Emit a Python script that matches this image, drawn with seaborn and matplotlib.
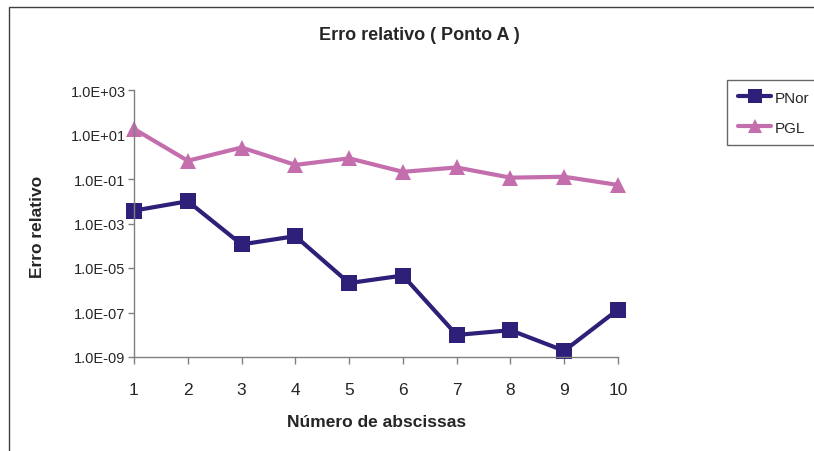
import matplotlib
matplotlib.use("Agg")
import matplotlib.pyplot as plt
import matplotlib.ticker as mticker
from matplotlib.patches import Rectangle
from matplotlib.lines import Line2D
import seaborn as sns
import pandas as pd
import numpy as np

abscissas = [1, 2, 3, 4, 5, 6, 7, 8, 9, 10]
pnor = [3.8e-3, 1.0e-2, 1.15e-4, 2.7e-4, 2.1e-6, 4.6e-6, 9.8e-9, 1.6e-8, 1.9e-9, 1.35e-7]
pgl = [17.8, 0.66, 2.6, 0.43, 0.85, 0.21, 0.33, 0.115, 0.126, 0.054]
series_names = ["PNor", "PGL"]
y_ticks = [1e-9, 1e-7, 1e-5, 1e-3, 1e-1, 1e1, 1e3]

sns.set_theme(style="white")
plt.rcParams['font.family'] = ['Liberation Sans', 'DejaVu Sans']

df = pd.DataFrame({
    "n": abscissas * 2,
    "err": pnor + pgl,
    "series": [series_names[0]] * len(abscissas) + [series_names[1]] * len(abscissas),
})

colors = {"PNor": "#2e1f78", "PGL": "#c46eae"}

fig = plt.figure(figsize=(8.14, 4.52), dpi=100)
ax = fig.add_axes([134 / 814, 1 - 358 / 452, (618 - 134) / 814, (358 - 91) / 452])

sns.lineplot(data=df, x="n", y="err", hue="series", style="series",
             markers={"PNor": "s", "PGL": "^"}, dashes=False, palette=colors,
             linewidth=3, markersize=11, markeredgewidth=0, ax=ax, legend=False,
             clip_on=False)

ax.set_yscale("log")
ax.set_ylim(1e-9, 1e3)
ax.set_xlim(1, 10)
ax.set_yticks(y_ticks)
ax.yaxis.set_minor_locator(mticker.NullLocator())
ax.yaxis.set_major_formatter(mticker.FuncFormatter(
    lambda v, p: "1.0E{:+03d}".format(int(round(np.log10(v))))))
ax.set_xticks(abscissas)
ax.set_xticklabels([str(a) for a in abscissas])

for s in ["top", "right"]:
    ax.spines[s].set_visible(False)
for s in ["left", "bottom"]:
    ax.spines[s].set_color("#808080")
    ax.spines[s].set_linewidth(1.0)
ax.tick_params(axis="y", which="major", direction="out", length=4, width=1,
               color="#808080", labelsize=10.5, pad=2, left=True)
ax.tick_params(axis="x", which="major", direction="out", length=5, width=1,
               color="#808080", labelsize=12.5, pad=13, bottom=True)
ax.grid(False)
ax.set_xlabel("")
ax.set_ylabel("")

fig.text(37 / 814, 1 - 227 / 452, "Erro relativo", rotation=90, ha="center", va="center",
         fontsize=12.5, fontweight="bold")
fig.text(377 / 814, 1 - 423 / 452, "Número de abscissas", ha="center", va="center",
         fontsize=12.5, fontweight="bold")
fig.text(419 / 814, 1 - 35 / 452, "Erro relativo ( Ponto A )", ha="center", va="center",
         fontsize=13, fontweight="bold")

# chart frame
fig.patches.append(Rectangle((9 / 814, -0.05), 1.2, 1 - 8 / 452 + 0.05,
                             transform=fig.transFigure, fill=False,
                             edgecolor="#404040", linewidth=1.0))

handles = [Line2D([], [], color=colors["PNor"], marker="s", lw=3, markersize=10, markeredgewidth=0),
           Line2D([], [], color=colors["PGL"], marker="^", lw=3, markersize=10, markeredgewidth=0)]
leg = fig.legend(handles, series_names, loc="upper left",
                 bbox_to_anchor=(727 / 814, 1 - 81 / 452), frameon=True, fancybox=False,
                 fontsize=11, handlelength=2.2, handletextpad=0.25, borderpad=0.7,
                 labelspacing=1.05, borderaxespad=0)
leg.get_frame().set_edgecolor("#404040")
leg.get_frame().set_linewidth(1.0)

fig.savefig("out.png", dpi=100)
